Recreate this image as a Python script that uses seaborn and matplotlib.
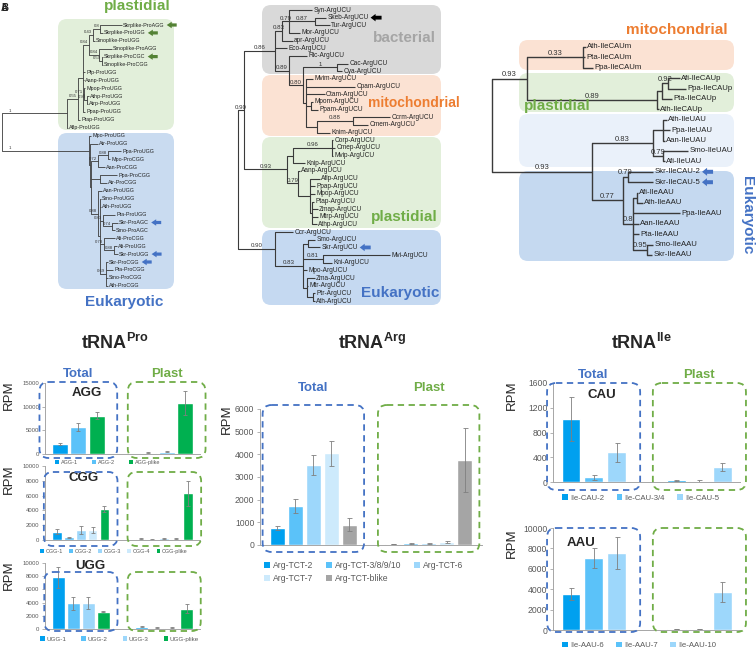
import matplotlib
matplotlib.use("Agg")
import matplotlib.pyplot as plt
from matplotlib import font_manager
from matplotlib.patches import FancyBboxPatch, Patch
import pandas as pd
import seaborn as sns

sns.set_style("ticks")
plt.rcParams["font.family"] = ["Liberation Sans", "DejaVu Sans"]
plt.rcParams["mathtext.fontset"] = "custom"
plt.rcParams["mathtext.rm"] = "Liberation Sans"
plt.rcParams["mathtext.bf"] = "Liberation Sans:bold"

installed = {f.name for f in font_manager.fontManager.ttflist}
NARROW = "Liberation Sans Narrow" if "Liberation Sans Narrow" in installed else "Liberation Sans"

# ---------------- tree data (newick, support values as node names) ----------------
pro_tree = (
    "(((((((Skrplike-ProAGG:22,Skrplike-ProUGG:3)0.8:7,Smoplike-ProUGG:2)0.43:4,"
    "(Smoplike-ProAGG:13,(Skrplike-ProCGC:1,Smoplike-ProCGG:1)0.59:3)0.84:10)0.84:6,"
    "Pfp-ProUGG:2,Aanp-ProUGG:0.5,(Mpop-ProUGG:1,(Athp-ProUGG:2,Atrp-ProUGG:1)0.99:3)0.71:1,"
    "Ppap-ProUGG:2):5,Ptap-ProUGG:2)0.55:11,Aflp-ProUGG:1)1:65,"
    "(Mpo-ProUGG:2,(Atr-ProUGG:8,(((Ppa-ProUGG:13,Mpo-ProCGG:2)0.88:10,Aan-ProCGG:7)0.72:7,"
    "(Ppa-ProCGG:17,Atr-ProCGG:7):9,(Aan-ProUGG:4,(Smo-ProUGG:1,Ath-ProUGG:1,"
    "(Pta-ProUGG:12,(Skr-ProAGC:6,Smo-ProAGC:3)0.74:9)0.83:3,"
    "(Afi-ProCGG:11,(Afi-ProUGG:3,Skr-ProUGG:4)0.88:10)0.78:4,"
    "(Skr-ProCGG:2,Pta-ProCGG:7,Smo-ProCGG:2,Ath-ProCGG:2)0.69:6):2)0.88:7):1):1)1:87);"
)
arg_tree = (
    "(((((Syn-ArgUCU:23,(Skeb-ArgUCU:11,Tur-ArgUCU:15)0.87:26,Mor-ArgUCU:11)0.79:7,"
    "apr-ArgUCU:11)0.83:7,Eco-ArgUCU:12,(Ric-ArgUCU:18,((Cac-ArgUCU:11,Cya-ArgUCU:5)1:34,"
    "(Mvim-ArgUCU:7,Cpam-ArgUCU:49,Otam-ArgUCU:19,(Mpom-ArgUCU:2,Ppam-ArgUCU:7):5,"
    "((Ccrm-ArgUCU:37,Cmem-ArgUCU:15)0.88:36,Knim-ArgUCU:13):11):3)0.80:14)0.89:14)0.86:31,"
    "(((Corp-ArgUCU:1,Cmep-ArgUCU:3,Mvip-ArgUCU:1)0.96:39,Knip-ArgUCU:12):6,"
    "(Aanp-ArgUCU:2,(Aflp-ArgUCU:10,Ppap-ArgUCU:5,Mpop-ArgUCU:5,(Ptap-ArgUCU:2,"
    "Zmap-ArgUCU:6,Mtrp-ArgUCU:6,Athp-ArgUCU:5):2):12)0.79:11)0.93:43)0.90:6,"
    "(Ccr-ArgUCU:18,((Smo-ArgUCU:7,Skr-ArgUCU:12):5,(Mvi-ArgUCU:67,Kni-ArgUCU:9)0.81:20,"
    "Mpo-ArgUCU:4,(Zma-ArgUCU:8,Mtr-ArgUCU:1,(Ptr-ArgUCU:2,Ath-ArgUCU:2):6):4)0.83:28)0.90:37);"
)
ile_tree = (
    "(((Ath-IleCAUm:3,Pta-IleCAUm:2,Ppa-IleCAUm:10)0.33:56,"
    "(((Afi-IleCAUp:12,Ppa-IleCAUp:18)0.92:6,Pta-IleCAUp:10):5,Ath-IleCAUp:2)0.89:130)0.93:35,"
    "(((Ath-IleUAU:4,Ppa-IleUAU:7,Aan-IleUAU:2):10,(Smo-IleUAU:25,Afi-IleUAU:2)0.79:10)0.83:61,"
    "((Skr-IleCAU-2:25,Skr-IleCAU-5:25)0.79:5,((Afi-IleAAU:1,Ath-IleAAU:6):4,Ppa-IleAAU:47,"
    "Aan-IleAAU:6,Pta-IleAAU:6,(Smo-IleAAU:6,Skr-IleAAU:5)0.95:14)0.8:10)0.77:31)0.93:100);"
)

# ---------------- bar data (RPM mean and sd) ----------------
groups = ["Total", "Plast"]

agg_series = ["AGG-1", "AGG-2", "AGG-plike"]
agg_total = [2200, 5700, 8100]
agg_total_sd = [200, 850, 750]
agg_plast = [280, 490, 10800]
agg_plast_sd = [80, 150, 2600]

cgg_series = ["CGG-1", "CGG-2", "CGG-3", "CGG-4", "CGG-plike"]
cgg_total = [1120, 360, 1390, 1300, 4170]
cgg_total_sd = [360, 60, 560, 400, 450]
cgg_plast = [180, 50, 220, 180, 6300]
cgg_plast_sd = [40, 20, 60, 50, 1700]

ugg_series = ["UGG-1", "UGG-2", "UGG-3", "UGG-plike"]
ugg_total = [7840, 3870, 4000, 2610]
ugg_total_sd = [1600, 950, 900, 100]
ugg_plast = [350, 200, 200, 3100]
ugg_plast_sd = [100, 60, 60, 650]

arg_series = ["Arg-TCT-2", "Arg-TCT-3/8/9/10", "Arg-TCT-6", "Arg-TCT-7", "Arg-TCT-blike"]
arg_total = [750, 1730, 3520, 4050, 900]
arg_total_sd = [100, 310, 430, 550, 290]
arg_plast = [45, 75, 75, 120, 3750]
arg_plast_sd = [15, 15, 15, 50, 1400]

cau_series = ["Ile-CAU-2", "Ile-CAU-3/4", "Ile-CAU-5"]
cau_total = [1020, 80, 480]
cau_total_sd = [350, 40, 150]
cau_plast = [26, 16, 245]
cau_plast_sd = [5, 12, 70]

aau_series = ["Ile-AAU-6", "Ile-AAU-7", "Ile-AAU-10"]
aau_total = [3520, 7070, 7540]
aau_total_sd = [600, 1000, 1600]
aau_plast = [100, 100, 3710]
aau_plast_sd = [20, 20, 950]

agg_ticks = [0, 5000, 10000, 15000]
cgg_ticks = [0, 2000, 4000, 6000, 8000, 10000]
arg_ticks = [0, 1000, 2000, 3000, 4000, 5000, 6000]
cau_ticks = [0, 400, 800, 1200, 1600]
aau_ticks = [0, 2000, 4000, 6000, 8000, 10000]

B1, B2, B3, B4 = "#00a0ef", "#5bc2f9", "#9dd7fb", "#cdeafc"
GR, GY = "#00b050", "#a5a5a5"
BLUE, GREEN, ORANGE = "#4472c4", "#70ad47", "#ed7d31"

W, H = 756, 648
fig = plt.figure(figsize=(W / 100, H / 100), dpi=100)
ov = fig.add_axes([0, 0, 1, 1], zorder=5)
ov.set_xlim(0, W)
ov.set_ylim(H, 0)
ov.axis("off")


def parse_newick(s):
    s = s.strip().rstrip(";")
    pos = 0

    def node():
        nonlocal pos
        children = []
        if s[pos] == "(":
            pos += 1
            while True:
                children.append(node())
                if s[pos] == ",":
                    pos += 1
                    continue
                pos += 1
                break
        start = pos
        while pos < len(s) and s[pos] not in ":,)":
            pos += 1
        name = s[start:pos]
        length = 0.0
        if pos < len(s) and s[pos] == ":":
            pos += 1
            start = pos
            while pos < len(s) and s[pos] not in ",)":
                pos += 1
            length = float(s[start:pos])
        return {"name": name, "len": length, "children": children}

    return node()


def draw_tree(newick, x0, y0, dy, lw, fs, sfs, at_node=False):
    root = parse_newick(newick)
    leaves = []

    def place(n, x):
        n["x"] = x
        for c in n["children"]:
            place(c, x + c["len"])
        if n["children"]:
            n["y"] = (n["children"][0]["y"] + n["children"][-1]["y"]) / 2
        else:
            n["y"] = y0 + len(leaves) * dy
            leaves.append(n)

    place(root, x0)
    texts = {}

    def draw(n, px):
        if px is not None:
            ov.plot([px, n["x"]], [n["y"], n["y"]], color="#3a3a3a", lw=lw, solid_capstyle="butt", zorder=2)
        if n["children"]:
            ov.plot([n["x"]] * 2, [n["children"][0]["y"], n["children"][-1]["y"]],
                    color="#3a3a3a", lw=lw, zorder=2)
            for c in n["children"]:
                draw(c, n["x"])
            if n["name"] and px is not None:
                if not at_node:
                    lx, ha = (px + n["x"]) / 2, "center"
                elif n["x"] - px > 40:
                    lx, ha = px + 7, "left"
                else:
                    lx, ha = n["x"] - 0.8, "right"
                ov.text(lx, n["y"] - 0.6, n["name"], ha=ha, va="bottom",
                        fontsize=sfs, color="#333333", zorder=3)
        else:
            texts[n["name"]] = ov.text(n["x"] + 1.2, n["y"], n["name"], ha="left", va="center",
                                       fontsize=fs, family=NARROW, color="#222222", zorder=3)

    draw(root, None)
    return texts, leaves


def bg_box(x0, y0, x1, y1, color, r=9):
    ov.add_patch(FancyBboxPatch((x0, y0), x1 - x0, y1 - y0,
                                boxstyle=f"round,pad=0,rounding_size={r}",
                                fc=color, ec="none", zorder=0))


def arrow_after(texts, leaves, name, color, length=11, body=3.6, head=8):
    r = fig.canvas.get_renderer()
    bb = texts[name].get_window_extent(renderer=r)
    y = [lf["y"] for lf in leaves if lf["name"] == name][0]
    xs = bb.x1 + 2
    ov.arrow(xs + length, y, -length, 0, width=body, head_width=head, head_length=5,
             length_includes_head=True, fc=color, ec="none", zorder=4)


# ---------------- trees ----------------
bg_box(58, 19, 174, 130, "#e2efda")
bg_box(58, 133, 174, 289, "#c9dbf0")
tA, lA = draw_tree(pro_tree, 2, 25, 7.9, 0.6, 3.9, 3.1, at_node=True)
for nm, col in [("Skrplike-ProAGG", "#548235"), ("Skrplike-ProUGG", "#548235"),
                ("Skrplike-ProCGC", "#548235"), ("Skr-ProAGC", BLUE),
                ("Skr-ProUGG", BLUE), ("Skr-ProCGG", BLUE)]:
    arrow_after(tA, lA, nm, col, length=10, body=3.2, head=6.5)
ov.text(137, 6, "plastidial", color=GREEN, fontsize=11, fontweight="bold", ha="center", va="center")
ov.text(124, 302, "Eukaryotic", color=BLUE, fontsize=11, fontweight="bold", ha="center", va="center")
ov.text(1, 8, "B", fontsize=7, fontweight="bold", va="center")
ov.text(1, 8, "A", fontsize=7, fontweight="bold", va="center")

bg_box(262, 5, 441, 74, "#d9d9d9")
bg_box(262, 75, 441, 136, "#fbe2d3")
bg_box(262, 137, 441, 228, "#e2efda")
bg_box(262, 230, 441, 305, "#c5d9f1")
tB, lB = draw_tree(arg_tree, 238, 10, 7.66, 0.8, 4.7, 4.4)
arrow_after(tB, lB, "Skeb-ArgUCU", "black", length=11, body=3.8, head=7.5)
arrow_after(tB, lB, "Skr-ArgUCU", BLUE, length=11, body=3.8, head=7.5)
ov.text(404, 38, "bacterial", color="#a5a5a5", fontsize=11, fontweight="bold", ha="center", va="center")
ov.text(414, 103, "mitochondrial", color=ORANGE, fontsize=10, fontweight="bold", ha="center", va="center")
ov.text(404, 217, "plastidial", color=GREEN, fontsize=11, fontweight="bold", ha="center", va="center")
ov.text(400, 293, "Eukaryotic", color=BLUE, fontsize=11, fontweight="bold", ha="center", va="center")

bg_box(519, 40, 734, 70, "#fbe2d3")
bg_box(519, 73, 734, 112, "#e2efda")
bg_box(519, 114, 734, 167, "#eaf1fa")
bg_box(519, 171, 734, 261, "#c5d9f0")
tC, lC = draw_tree(ile_tree, 492, 47, 10.4, 1.0, 5.6, 5.5)
for nm in ["Skr-IleCAU-2", "Skr-IleCAU-5"]:
    arrow_after(tC, lC, nm, BLUE, length=11, body=4, head=8)
ov.text(677, 30, "mitochondrial", color=ORANGE, fontsize=11, fontweight="bold", ha="center", va="center")
ov.text(557, 106, "plastidial", color=GREEN, fontsize=11, fontweight="bold", ha="center", va="center")
ov.text(747, 215, "Eukaryotic", color=BLUE, fontsize=11, fontweight="bold", ha="center", va="center",
        rotation=-90)


# ---------------- bar panels ----------------
def rect(l, t, r, b):
    return [l / W, 1 - b / H, (r - l) / W, (b - t) / H]


def bar_panel(box, series, total, total_sd, plast, plast_sd, colors, ticks, width, gap, tick_fs, cap):
    ax = fig.add_axes(rect(*box))
    df = pd.DataFrame({"group": ["Total"] * len(series) + ["Plast"] * len(series),
                       "series": series + series, "rpm": total + plast})
    sns.barplot(data=df, x="group", y="rpm", hue="series", order=groups, hue_order=series,
                palette=colors, width=width, gap=gap, saturation=1, errorbar=None,
                legend=False, ax=ax)
    for cont, sds in zip(ax.containers, zip(total_sd, plast_sd)):
        for bar, sd in zip(cont, sds):
            ax.errorbar(bar.get_x() + bar.get_width() / 2, bar.get_height(), yerr=sd,
                        fmt="none", ecolor="#7f7f7f", elinewidth=0.6, capsize=cap, capthick=0.6)
    ax.set_ylim(0, ticks[-1])
    ax.set_yticks(ticks)
    ax.set_xticks([])
    ax.set_xlabel("")
    ax.set_ylabel("")
    ax.tick_params(axis="y", labelsize=tick_fs, labelcolor="#595959", length=2.5,
                   width=0.6, color="#a6a6a6", pad=1.5)
    sns.despine(ax=ax)
    for s in ("left", "bottom"):
        ax.spines[s].set_color("#a6a6a6")
        ax.spines[s].set_linewidth(0.7)
    ax.set_facecolor("none")
    return ax


def legend(ax, series, colors, x, y, fs, colsp, ncol=None, order=None):
    handles = [Patch(facecolor=c, edgecolor="none") for c in colors]
    labels = list(series)
    if order:
        handles = [handles[i] for i in order]
        labels = [labels[i] for i in order]
    ax.legend(handles, labels, loc="center left", bbox_to_anchor=(x, y), ncol=ncol or len(series),
              frameon=False, fontsize=fs, handlelength=0.7, handleheight=0.7, handletextpad=0.3,
              columnspacing=colsp, borderpad=0, borderaxespad=0, labelcolor="#595959")


def group_boxes(ax, dt, db, half=0.44, r=9):
    bb = ax.get_position()
    top = H * (1 - bb.y1) + dt
    bot = H * (1 - bb.y0) + db
    for i, col in enumerate([BLUE, GREEN]):
        xl = ax.transData.transform((i - half, 0))[0]
        xr = ax.transData.transform((i + half, 0))[0]
        ov.add_patch(FancyBboxPatch((xl, top), xr - xl, bot - top,
                                    boxstyle=f"round,pad=0,rounding_size={r}", fill=False,
                                    ec=col, lw=1.3, ls=(0, (3.5, 2.5)), zorder=6))


def group_titles(ax, y, fs=9.5):
    for i, (g, col) in enumerate(zip(groups, [BLUE, GREEN])):
        xc = ax.transData.transform((i, 0))[0]
        ov.text(xc, y, g, color=col, fontsize=fs, fontweight="bold", ha="center", va="center")


def rpm(x, y):
    ov.text(x, y, "RPM", rotation=90, fontsize=9.5, color="#262626", ha="center", va="center")


# tRNA-Pro
ax1 = bar_panel((45, 383, 200, 454), agg_series, agg_total, agg_total_sd, agg_plast, agg_plast_sd,
                [B1, B2, GR], agg_ticks, 0.62, 0.12, 4.3, 1.2)
legend(ax1, agg_series, [B1, B2, GR], 0.065, -0.12, 4.0, 2.6)
group_boxes(ax1, -1, 4)
group_titles(ax1, 374)
ax1.text(0.27, 0.86, "AGG", transform=ax1.transAxes, fontsize=9.5, fontweight="bold", ha="center", va="center")
rpm(9, 395)

ax2 = bar_panel((45, 466, 200, 540), cgg_series, cgg_total, cgg_total_sd, cgg_plast, cgg_plast_sd,
                [B1, B2, B3, B4, GR], cgg_ticks, 0.71, 0.18, 4.3, 1.2)
legend(ax2, cgg_series, [B1, B2, B3, B4, GR], -0.03, -0.15, 4.0, 1.1)
group_boxes(ax2, 6, 6)
ax2.text(0.25, 0.84, "CGG", transform=ax2.transAxes, fontsize=9.5, fontweight="bold", ha="center", va="center")
rpm(9, 479)

ax3 = bar_panel((45, 563, 200, 629), ugg_series, ugg_total, ugg_total_sd, ugg_plast, ugg_plast_sd,
                [B1, B2, B3, GR], cgg_ticks, 0.72, 0.15, 4.3, 1.2)
legend(ax3, ugg_series, [B1, B2, B3, GR], -0.03, -0.15, 4.5, 2.4)
group_boxes(ax3, 9, 2)
ax3.text(0.29, 0.95, "UGG", transform=ax3.transAxes, fontsize=9.5, fontweight="bold", ha="center", va="center")
rpm(9, 575)

ov.text(115, 343, r"$\mathbf{tRNA}^{\mathbf{Pro}}$", fontsize=13, ha="center", va="center")

# tRNA-Arg
arg_colors = [B1, B2, B3, B4, GY]
ax4 = bar_panel((260, 409, 482, 545), arg_series, arg_total, arg_total_sd, arg_plast, arg_plast_sd,
                arg_colors, arg_ticks, 0.78, 0.19, 6.2, 1.8)
legend(ax4, arg_series, arg_colors, 0.02, -0.2, 6.2, 1.5, ncol=3, order=[0, 3, 1, 4, 2])
group_boxes(ax4, -4, 7)
group_titles(ax4, 388)
rpm(227, 419)
ov.text(372, 343, r"$\mathbf{tRNA}^{\mathbf{Arg}}$", fontsize=13, ha="center", va="center")

# tRNA-Ile
ax5 = bar_panel((553, 383, 740, 482), cau_series, cau_total, cau_total_sd, cau_plast, cau_plast_sd,
                [B1, B2, B3], cau_ticks, 0.65, 0.2, 6.2, 1.8)
legend(ax5, cau_series, [B1, B2, B3], 0.05, -0.16, 5.6, 1.6)
group_boxes(ax5, 0, 8)
group_titles(ax5, 375)
ax5.text(0.26, 0.88, "CAU", transform=ax5.transAxes, fontsize=9.5, fontweight="bold", ha="center", va="center")
rpm(512, 395)

ax6 = bar_panel((553, 528, 740, 630), aau_series, aau_total, aau_total_sd, aau_plast, aau_plast_sd,
                [B1, B2, B3], aau_ticks, 0.65, 0.2, 6.2, 1.8)
legend(ax6, aau_series, [B1, B2, B3], 0.05, -0.15, 5.6, 1.6)
group_boxes(ax6, 0, 2)
ax6.text(0.15, 0.85, "AAU", transform=ax6.transAxes, fontsize=9.5, fontweight="bold", ha="center", va="center")
rpm(512, 543)
ov.text(641, 343, r"$\mathbf{tRNA}^{\mathbf{Ile}}$", fontsize=13, ha="center", va="center")

fig.savefig("out.png", dpi=100)
